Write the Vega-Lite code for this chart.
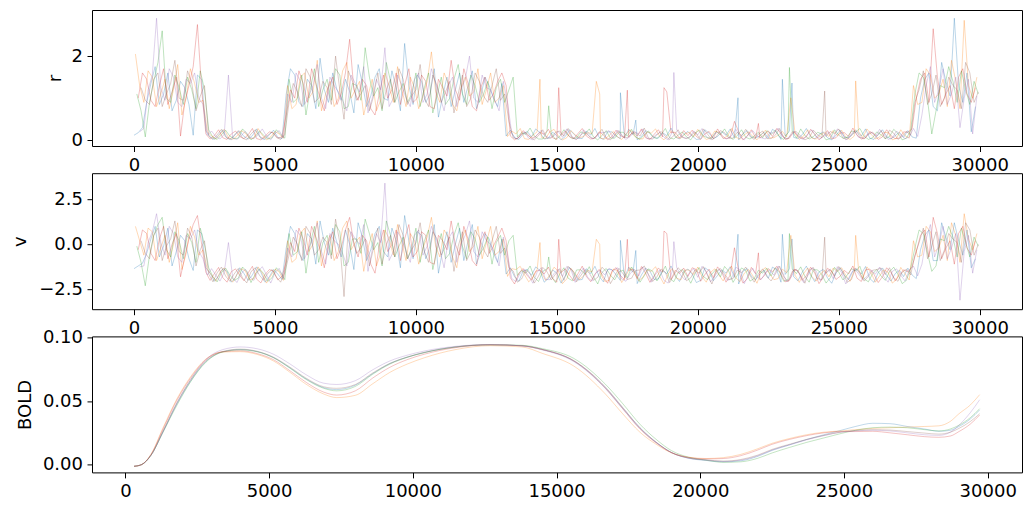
{
"$schema": "https://vega.github.io/schema/vega-lite/v6.json",
"padding": {"left": 10, "top": 9, "right": 5, "bottom": 5},
"background": "white",
"bounds": "flush",
"spacing": 27.2,
"datasets": {
"rv": [
{"t":0,"s":0,"r":0.12,"v":-1.35},{"t":300,"s":0,"r":0.3,"v":-1.05},{"t":600,"s":0,"r":1.35,"v":0.3},{"t":900,"s":0,"r":0.85,"v":-0.7},{"t":1200,"s":0,"r":1.6,"v":0.9},{"t":1500,"s":0,"r":0.95,"v":-0.4},{"t":1800,"s":0,"r":1.25,"v":0.2},{"t":2100,"s":0,"r":0.12,"v":-1.45},{"t":2400,"s":0,"r":1.45,"v":0.6},
{"t":2700,"s":0,"r":0.08,"v":-1.6},{"t":3000,"s":0,"r":0.12,"v":-1.75},{"t":3300,"s":0,"r":0.05,"v":-1.5},{"t":3600,"s":0,"r":0.15,"v":-1.85},{"t":3900,"s":0,"r":0.09,"v":-1.62},{"t":4200,"s":0,"r":0.11,"v":-1.7},{"t":4500,"s":0,"r":0.04,"v":-1.55},{"t":4800,"s":0,"r":0.13,"v":-1.8},{"t":5100,"s":0,"r":0.07,"v":-1.65},
{"t":5400,"s":0,"r":1.1,"v":-0.2},{"t":5700,"s":0,"r":1.55,"v":0.6},{"t":6000,"s":0,"r":0.8,"v":-0.9},{"t":6300,"s":0,"r":1.3,"v":0.3},{"t":6600,"s":0,"r":1.95,"v":1.3},{"t":6900,"s":0,"r":0.9,"v":-0.6},{"t":7200,"s":0,"r":1.2,"v":0.1},{"t":7500,"s":0,"r":1.45,"v":0.8},{"t":7800,"s":0,"r":0.65,"v":-1.4},{"t":8100,"s":0,"r":1.35,"v":0.4},{"t":8400,"s":0,"r":1.05,"v":-0.3},{"t":8700,"s":0,"r":1.7,"v":1.0},{"t":9000,"s":0,"r":0.95,"v":-0.7},{"t":9300,"s":0,"r":1.25,"v":0.2},{"t":9600,"s":0,"r":2.3,"v":1.6},{"t":9900,"s":0,"r":0.85,"v":-0.8},{"t":10200,"s":0,"r":1.4,"v":0.5},{"t":10500,"s":0,"r":1.1,"v":-0.1},{"t":10800,"s":0,"r":0.55,"v":-1.6},{"t":11100,"s":0,"r":1.5,"v":0.7},{"t":11400,"s":0,"r":1.2,"v":0.0},{"t":11700,"s":0,"r":0.9,"v":-0.9},{"t":12000,"s":0,"r":1.65,"v":1.1},{"t":12300,"s":0,"r":1.05,"v":-0.4},{"t":12600,"s":0,"r":1.3,"v":0.3},{"t":12900,"s":0,"r":0.8,"v":-1.0},
{"t":13200,"s":0,"r":0.1,"v":-1.65},{"t":13500,"s":0,"r":0.06,"v":-1.8},{"t":13800,"s":0,"r":0.14,"v":-1.5},{"t":14100,"s":0,"r":0.08,"v":-1.72},{"t":14400,"s":0,"r":0.18,"v":-1.45},{"t":14700,"s":0,"r":0.05,"v":-1.9},{"t":15000,"s":0,"r":0.11,"v":-1.6},{"t":15300,"s":0,"r":0.09,"v":-1.75},{"t":15600,"s":0,"r":0.15,"v":-1.55},{"t":15900,"s":0,"r":0.04,"v":-1.95},{"t":16200,"s":0,"r":0.12,"v":-1.62},{"t":16500,"s":0,"r":0.07,"v":-1.78},{"t":16800,"s":0,"r":0.2,"v":-1.4},{"t":17100,"s":0,"r":0.1,"v":-1.68},{"t":17400,"s":0,"r":0.06,"v":-1.85},{"t":17700,"s":0,"r":0.13,"v":-1.55},{"t":18000,"s":0,"r":0.09,"v":-1.7},{"t":18300,"s":0,"r":0.16,"v":-1.48},{"t":18600,"s":0,"r":0.05,"v":-1.92},{"t":18900,"s":0,"r":0.11,"v":-1.63},{"t":19200,"s":0,"r":0.08,"v":-1.76},{"t":19500,"s":0,"r":0.14,"v":-1.52},{"t":19800,"s":0,"r":0.1,"v":-1.66},{"t":20100,"s":0,"r":0.03,"v":-2.0},{"t":20400,"s":0,"r":0.17,"v":-1.46},{"t":20700,"s":0,"r":0.09,"v":-1.73},{"t":21000,"s":0,"r":0.12,"v":-1.6},{"t":21300,"s":0,"r":0.06,"v":-1.83},{"t":21600,"s":0,"r":0.15,"v":-1.5},{"t":21900,"s":0,"r":0.08,"v":-1.77},{"t":22200,"s":0,"r":0.11,"v":-1.64},{"t":22500,"s":0,"r":0.05,"v":-1.88},{"t":22800,"s":0,"r":0.19,"v":-1.42},{"t":23100,"s":0,"r":0.1,"v":-1.67},{"t":23400,"s":0,"r":0.07,"v":-1.8},{"t":23700,"s":0,"r":0.13,"v":-1.56},{"t":24000,"s":0,"r":0.09,"v":-1.71},{"t":24300,"s":0,"r":0.14,"v":-1.53},{"t":24600,"s":0,"r":0.06,"v":-1.86},{"t":24900,"s":0,"r":0.12,"v":-1.6},{"t":25200,"s":0,"r":0.08,"v":-1.74},{"t":25500,"s":0,"r":0.16,"v":-1.49},{"t":25800,"s":0,"r":0.1,"v":-1.65},{"t":26100,"s":0,"r":0.05,"v":-1.9},{"t":26400,"s":0,"r":0.13,"v":-1.57},{"t":26700,"s":0,"r":0.09,"v":-1.72},{"t":27000,"s":0,"r":0.11,"v":-1.63},{"t":27300,"s":0,"r":0.07,"v":-1.79},
{"t":27600,"s":0,"r":0.08,"v":-1.7},{"t":27900,"s":0,"r":1.0,"v":-0.3},{"t":28200,"s":0,"r":1.6,"v":0.8},{"t":28500,"s":0,"r":0.7,"v":-0.9},{"t":28800,"s":0,"r":1.4,"v":0.4},{"t":29100,"s":0,"r":2.9,"v":1.2},{"t":29400,"s":0,"r":0.9,"v":-0.6},{"t":29700,"s":0,"r":0.2,"v":-1.3},
{"t":17254,"s":0,"r":1.13,"v":0.22},{"t":17800,"s":0,"r":0.48,"v":-0.34},{"t":21425,"s":0,"r":1.01,"v":0.56},{"t":23000,"s":0,"r":1.45,"v":0.56},{"t":23340,"s":0,"r":1.36,"v":0.3},
{"t":150,"s":0,"r":0.18,"v":-1.2},{"t":450,"s":0,"r":0.9,"v":-0.5},{"t":750,"s":0,"r":1.75,"v":1.0},{"t":1050,"s":0,"r":1.1,"v":-0.1},{"t":1350,"s":0,"r":0.7,"v":-1.2},{"t":1650,"s":0,"r":1.4,"v":0.5},{"t":1950,"s":0,"r":0.85,"v":-0.8},{"t":2250,"s":0,"r":1.55,"v":0.8},{"t":2550,"s":0,"r":0.22,"v":-1.3},
{"t":2850,"s":0,"r":0.02,"v":-2.05},{"t":3150,"s":0,"r":0.25,"v":-1.35},{"t":3450,"s":0,"r":0.01,"v":-2.1},{"t":3750,"s":0,"r":0.22,"v":-1.3},{"t":4050,"s":0,"r":0.03,"v":-2.0},{"t":4350,"s":0,"r":0.27,"v":-1.25},{"t":4650,"s":0,"r":0.02,"v":-2.1},{"t":4950,"s":0,"r":0.24,"v":-1.4},{"t":5250,"s":0,"r":0.04,"v":-1.95},
{"t":5550,"s":0,"r":1.7,"v":1.0},{"t":5850,"s":0,"r":0.9,"v":-0.5},{"t":6150,"s":0,"r":1.45,"v":0.6},{"t":6450,"s":0,"r":0.75,"v":-1.1},{"t":6750,"s":0,"r":1.2,"v":0.1},{"t":7050,"s":0,"r":1.6,"v":0.9},{"t":7350,"s":0,"r":0.95,"v":-0.7},{"t":7650,"s":0,"r":1.15,"v":0.0},{"t":7950,"s":0,"r":1.8,"v":1.2},{"t":8250,"s":0,"r":0.8,"v":-0.9},{"t":8550,"s":0,"r":1.5,"v":0.6},{"t":8850,"s":0,"r":1.0,"v":-0.4},{"t":9150,"s":0,"r":1.65,"v":0.9},{"t":9450,"s":0,"r":0.7,"v":-1.3},{"t":9750,"s":0,"r":1.3,"v":0.2},{"t":10050,"s":0,"r":1.55,"v":0.7},{"t":10350,"s":0,"r":0.9,"v":-0.8},{"t":10650,"s":0,"r":1.7,"v":1.1},{"t":10950,"s":0,"r":1.05,"v":-0.3},{"t":11250,"s":0,"r":0.8,"v":-1.0},{"t":11550,"s":0,"r":1.6,"v":0.9},{"t":11850,"s":0,"r":1.3,"v":0.2},{"t":12150,"s":0,"r":0.75,"v":-1.1},{"t":12450,"s":0,"r":1.5,"v":0.6},{"t":12750,"s":0,"r":1.0,"v":-0.5},{"t":13050,"s":0,"r":1.35,"v":0.3},
{"t":13350,"s":0,"r":0.24,"v":-1.3},{"t":13650,"s":0,"r":0.02,"v":-2.05},{"t":13950,"s":0,"r":0.21,"v":-1.38},{"t":14250,"s":0,"r":0.27,"v":-1.25},{"t":14550,"s":0,"r":0.03,"v":-2.1},{"t":14850,"s":0,"r":0.19,"v":-1.42},{"t":15150,"s":0,"r":0.01,"v":-2.15},{"t":15450,"s":0,"r":0.25,"v":-1.28},{"t":15750,"s":0,"r":0.05,"v":-1.98},{"t":16050,"s":0,"r":0.22,"v":-1.35},{"t":16350,"s":0,"r":0.28,"v":-1.22},{"t":16650,"s":0,"r":0.02,"v":-2.08},{"t":16950,"s":0,"r":0.2,"v":-1.4},{"t":17250,"s":0,"r":0.04,"v":-2.0},{"t":17550,"s":0,"r":0.26,"v":-1.27},{"t":17850,"s":0,"r":0.01,"v":-2.18},{"t":18150,"s":0,"r":0.23,"v":-1.33},{"t":18450,"s":0,"r":0.06,"v":-1.95},{"t":18750,"s":0,"r":0.18,"v":-1.45},{"t":19050,"s":0,"r":0.29,"v":-1.2},{"t":19350,"s":0,"r":0.03,"v":-2.06},{"t":19650,"s":0,"r":0.21,"v":-1.37},{"t":19950,"s":0,"r":0.02,"v":-2.12},{"t":20250,"s":0,"r":0.25,"v":-1.3},{"t":20550,"s":0,"r":0.04,"v":-2.02},{"t":20850,"s":0,"r":0.2,"v":-1.41},{"t":21150,"s":0,"r":0.27,"v":-1.24},{"t":21450,"s":0,"r":0.01,"v":-2.2},{"t":21750,"s":0,"r":0.23,"v":-1.34},{"t":22050,"s":0,"r":0.05,"v":-1.97},{"t":22350,"s":0,"r":0.19,"v":-1.43},{"t":22650,"s":0,"r":0.26,"v":-1.26},{"t":22950,"s":0,"r":0.02,"v":-2.1},{"t":23250,"s":0,"r":0.22,"v":-1.36},{"t":23550,"s":0,"r":0.04,"v":-2.03},{"t":23850,"s":0,"r":0.28,"v":-1.21},{"t":24150,"s":0,"r":0.03,"v":-2.07},{"t":24450,"s":0,"r":0.2,"v":-1.39},{"t":24750,"s":0,"r":0.01,"v":-2.16},{"t":25050,"s":0,"r":0.24,"v":-1.29},{"t":25350,"s":0,"r":0.06,"v":-1.96},{"t":25650,"s":0,"r":0.21,"v":-1.38},{"t":25950,"s":0,"r":0.27,"v":-1.23},{"t":26250,"s":0,"r":0.02,"v":-2.11},{"t":26550,"s":0,"r":0.25,"v":-1.31},{"t":26850,"s":0,"r":0.03,"v":-2.04},{"t":27150,"s":0,"r":0.19,"v":-1.44},{"t":27450,"s":0,"r":0.23,"v":-1.32},
{"t":27750,"s":0,"r":0.05,"v":-1.9},{"t":28050,"s":0,"r":1.45,"v":0.5},{"t":28350,"s":0,"r":0.8,"v":-0.9},{"t":28650,"s":0,"r":1.85,"v":1.2},{"t":28950,"s":0,"r":1.05,"v":-0.3},{"t":29250,"s":0,"r":1.3,"v":0.2},{"t":29550,"s":0,"r":1.6,"v":0.8},{"t":29850,"s":0,"r":0.8,"v":-0.8},

{"t":50,"s":1,"r":2.05,"v":1.0},{"t":350,"s":1,"r":0.9,"v":-0.6},{"t":650,"s":1,"r":1.5,"v":0.7},{"t":950,"s":1,"r":1.1,"v":-0.2},{"t":1250,"s":1,"r":0.75,"v":-1.0},{"t":1550,"s":1,"r":1.8,"v":1.2},{"t":1850,"s":1,"r":1.0,"v":-0.5},{"t":2150,"s":1,"r":1.35,"v":0.4},{"t":2450,"s":1,"r":0.95,"v":-0.3},
{"t":2750,"s":1,"r":0.1,"v":-1.7},{"t":3050,"s":1,"r":0.14,"v":-1.55},{"t":3350,"s":1,"r":0.06,"v":-1.82},{"t":3650,"s":1,"r":0.1,"v":-1.68},{"t":3950,"s":1,"r":0.17,"v":-1.47},{"t":4250,"s":1,"r":0.05,"v":-1.9},{"t":4550,"s":1,"r":0.12,"v":-1.6},{"t":4850,"s":1,"r":0.08,"v":-1.75},{"t":5150,"s":1,"r":0.15,"v":-1.52},
{"t":5450,"s":1,"r":1.3,"v":0.2},{"t":5750,"s":1,"r":0.85,"v":-0.8},{"t":6050,"s":1,"r":1.6,"v":0.9},{"t":6350,"s":1,"r":1.15,"v":0.0},{"t":6650,"s":1,"r":0.7,"v":-1.2},{"t":6950,"s":1,"r":1.4,"v":0.5},{"t":7250,"s":1,"r":1.0,"v":-0.4},{"t":7550,"s":1,"r":1.85,"v":1.3},{"t":7850,"s":1,"r":1.2,"v":0.1},{"t":8150,"s":1,"r":0.6,"v":-1.5},{"t":8450,"s":1,"r":1.45,"v":0.6},{"t":8750,"s":1,"r":0.95,"v":-0.5},{"t":9050,"s":1,"r":1.3,"v":0.3},{"t":9350,"s":1,"r":1.75,"v":1.1},{"t":9650,"s":1,"r":0.8,"v":-0.9},{"t":9950,"s":1,"r":1.25,"v":0.2},{"t":10250,"s":1,"r":1.05,"v":-0.2},{"t":10550,"s":1,"r":2.1,"v":1.5},{"t":10850,"s":1,"r":0.9,"v":-0.7},{"t":11150,"s":1,"r":1.35,"v":0.4},{"t":11450,"s":1,"r":0.7,"v":-1.3},{"t":11750,"s":1,"r":1.5,"v":0.8},{"t":12050,"s":1,"r":1.15,"v":-0.1},{"t":12350,"s":1,"r":0.85,"v":-0.8},{"t":12650,"s":1,"r":1.6,"v":1.0},{"t":12950,"s":1,"r":1.0,"v":-0.4},
{"t":13250,"s":1,"r":0.09,"v":-1.78},{"t":13550,"s":1,"r":0.15,"v":-1.4},{"t":13850,"s":1,"r":0.04,"v":-1.68},{"t":14150,"s":1,"r":0.12,"v":-1.85},{"t":14450,"s":1,"r":0.07,"v":-1.55},{"t":14750,"s":1,"r":0.2,"v":-1.7},{"t":15050,"s":1,"r":0.1,"v":-1.48},{"t":15350,"s":1,"r":0.06,"v":-1.92},{"t":15650,"s":1,"r":0.13,"v":-1.63},{"t":15950,"s":1,"r":0.09,"v":-1.76},{"t":16250,"s":1,"r":0.16,"v":-1.52},{"t":16550,"s":1,"r":0.05,"v":-1.66},{"t":16850,"s":1,"r":0.11,"v":-2.0},{"t":17150,"s":1,"r":0.08,"v":-1.46},{"t":17450,"s":1,"r":0.14,"v":-1.73},{"t":17750,"s":1,"r":0.1,"v":-1.6},{"t":18050,"s":1,"r":0.03,"v":-1.83},{"t":18350,"s":1,"r":0.17,"v":-1.5},{"t":18650,"s":1,"r":0.09,"v":-1.77},{"t":18950,"s":1,"r":0.12,"v":-1.64},{"t":19250,"s":1,"r":0.06,"v":-1.88},{"t":19550,"s":1,"r":0.15,"v":-1.42},{"t":19850,"s":1,"r":0.08,"v":-1.67},{"t":20150,"s":1,"r":0.11,"v":-1.8},{"t":20450,"s":1,"r":0.05,"v":-1.56},{"t":20750,"s":1,"r":0.19,"v":-1.71},{"t":21050,"s":1,"r":0.1,"v":-1.53},{"t":21350,"s":1,"r":0.07,"v":-1.86},{"t":21650,"s":1,"r":0.13,"v":-1.6},{"t":21950,"s":1,"r":0.09,"v":-1.74},{"t":22250,"s":1,"r":0.14,"v":-1.49},{"t":22550,"s":1,"r":0.06,"v":-1.65},{"t":22850,"s":1,"r":0.12,"v":-1.9},{"t":23150,"s":1,"r":0.08,"v":-1.57},{"t":23450,"s":1,"r":0.16,"v":-1.72},{"t":23750,"s":1,"r":0.1,"v":-1.63},{"t":24050,"s":1,"r":0.05,"v":-1.79},{"t":24350,"s":1,"r":0.13,"v":-1.65},{"t":24650,"s":1,"r":0.09,"v":-1.8},{"t":24950,"s":1,"r":0.11,"v":-1.5},{"t":25250,"s":1,"r":0.07,"v":-1.72},{"t":25550,"s":1,"r":0.1,"v":-1.45},{"t":25850,"s":1,"r":0.06,"v":-1.9},{"t":26150,"s":1,"r":0.14,"v":-1.6},{"t":26450,"s":1,"r":0.08,"v":-1.75},{"t":26750,"s":1,"r":0.18,"v":-1.55},{"t":27050,"s":1,"r":0.05,"v":-1.95},{"t":27350,"s":1,"r":0.11,"v":-1.62},
{"t":27650,"s":1,"r":1.3,"v":0.2},{"t":27950,"s":1,"r":0.9,"v":-0.6},{"t":28250,"s":1,"r":1.55,"v":0.7},{"t":28550,"s":1,"r":1.1,"v":-0.2},{"t":28850,"s":1,"r":0.8,"v":-0.9},{"t":29150,"s":1,"r":1.4,"v":0.5},{"t":29450,"s":1,"r":2.85,"v":1.7},{"t":29750,"s":1,"r":1.0,"v":-0.3},
{"t":14400,"s":1,"r":1.45,"v":0.1},{"t":16520,"s":1,"r":1.1,"v":0.0},{"t":25600,"s":1,"r":1.41,"v":0.5},
{"t":200,"s":1,"r":1.3,"v":0.2},{"t":500,"s":1,"r":1.65,"v":0.9},{"t":800,"s":1,"r":0.8,"v":-0.9},{"t":1100,"s":1,"r":1.45,"v":0.5},{"t":1400,"s":1,"r":1.2,"v":0.0},{"t":1700,"s":1,"r":0.6,"v":-1.4},{"t":2000,"s":1,"r":1.7,"v":1.0},{"t":2300,"s":1,"r":0.9,"v":-0.6},{"t":2600,"s":1,"r":0.2,"v":-1.4},
{"t":2900,"s":1,"r":0.03,"v":-2.05},{"t":3200,"s":1,"r":0.26,"v":-1.3},{"t":3500,"s":1,"r":0.02,"v":-2.1},{"t":3800,"s":1,"r":0.23,"v":-1.35},{"t":4100,"s":1,"r":0.04,"v":-1.98},{"t":4400,"s":1,"r":0.28,"v":-1.25},{"t":4700,"s":1,"r":0.01,"v":-2.15},{"t":5000,"s":1,"r":0.21,"v":-1.38},{"t":5300,"s":1,"r":0.05,"v":-2.0},
{"t":5600,"s":1,"r":0.75,"v":-1.0},{"t":5900,"s":1,"r":1.5,"v":0.6},{"t":6200,"s":1,"r":1.0,"v":-0.4},{"t":6500,"s":1,"r":1.9,"v":1.3},{"t":6800,"s":1,"r":1.1,"v":-0.1},{"t":7100,"s":1,"r":0.8,"v":-0.9},{"t":7400,"s":1,"r":1.65,"v":0.9},{"t":7700,"s":1,"r":1.0,"v":-0.3},{"t":8000,"s":1,"r":1.4,"v":0.4},{"t":8300,"s":1,"r":1.05,"v":-0.2},{"t":8600,"s":1,"r":0.7,"v":-1.2},{"t":8900,"s":1,"r":1.6,"v":0.8},{"t":9200,"s":1,"r":0.9,"v":-0.6},{"t":9500,"s":1,"r":1.2,"v":0.1},{"t":9800,"s":1,"r":1.5,"v":0.6},{"t":10100,"s":1,"r":0.75,"v":-1.1},{"t":10400,"s":1,"r":1.4,"v":0.4},{"t":10700,"s":1,"r":1.15,"v":-0.1},{"t":11000,"s":1,"r":1.6,"v":0.8},{"t":11300,"s":1,"r":0.85,"v":-0.7},{"t":11600,"s":1,"r":1.25,"v":0.2},{"t":11900,"s":1,"r":1.05,"v":-0.4},{"t":12200,"s":1,"r":1.7,"v":1.0},{"t":12500,"s":1,"r":1.2,"v":0.1},{"t":12800,"s":1,"r":0.9,"v":-0.6},{"t":13100,"s":1,"r":1.3,"v":0.3},
{"t":13400,"s":1,"r":0.22,"v":-1.35},{"t":13700,"s":1,"r":0.28,"v":-1.22},{"t":14000,"s":1,"r":0.02,"v":-2.08},{"t":14300,"s":1,"r":0.2,"v":-1.4},{"t":14600,"s":1,"r":0.04,"v":-2.0},{"t":14900,"s":1,"r":0.26,"v":-1.27},{"t":15200,"s":1,"r":0.01,"v":-2.18},{"t":15500,"s":1,"r":0.23,"v":-1.33},{"t":15800,"s":1,"r":0.06,"v":-1.95},{"t":16100,"s":1,"r":0.18,"v":-1.45},{"t":16400,"s":1,"r":1.4,"v":0.28},{"t":16700,"s":1,"r":0.03,"v":-2.06},{"t":17000,"s":1,"r":0.21,"v":-1.37},{"t":17300,"s":1,"r":0.02,"v":-2.12},{"t":17600,"s":1,"r":0.25,"v":-1.3},{"t":17900,"s":1,"r":0.04,"v":-2.02},{"t":18200,"s":1,"r":0.2,"v":-1.41},{"t":18500,"s":1,"r":0.27,"v":-1.24},{"t":18800,"s":1,"r":0.01,"v":-2.2},{"t":19100,"s":1,"r":0.23,"v":-1.34},{"t":19400,"s":1,"r":0.05,"v":-1.97},{"t":19700,"s":1,"r":0.19,"v":-1.43},{"t":20000,"s":1,"r":0.26,"v":-1.26},{"t":20300,"s":1,"r":0.02,"v":-2.1},{"t":20600,"s":1,"r":0.22,"v":-1.36},{"t":20900,"s":1,"r":0.04,"v":-2.03},{"t":21200,"s":1,"r":0.28,"v":-1.21},{"t":21500,"s":1,"r":0.03,"v":-2.07},{"t":21800,"s":1,"r":0.2,"v":-1.39},{"t":22100,"s":1,"r":0.01,"v":-2.16},{"t":22400,"s":1,"r":0.24,"v":-1.29},{"t":22700,"s":1,"r":0.06,"v":-1.96},{"t":23000,"s":1,"r":0.21,"v":-1.38},{"t":23300,"s":1,"r":1.01,"v":0.5},{"t":23600,"s":1,"r":0.02,"v":-2.11},{"t":23900,"s":1,"r":0.25,"v":-1.31},{"t":24200,"s":1,"r":0.03,"v":-2.04},{"t":24500,"s":1,"r":0.19,"v":-1.44},{"t":24800,"s":1,"r":0.23,"v":-1.32},{"t":25100,"s":1,"r":0.24,"v":-1.3},{"t":25400,"s":1,"r":0.02,"v":-2.05},{"t":25700,"s":1,"r":0.21,"v":-1.38},{"t":26000,"s":1,"r":0.27,"v":-1.25},{"t":26300,"s":1,"r":0.03,"v":-2.1},{"t":26600,"s":1,"r":0.19,"v":-1.42},{"t":26900,"s":1,"r":0.01,"v":-2.15},{"t":27200,"s":1,"r":0.25,"v":-1.28},{"t":27500,"s":1,"r":0.05,"v":-1.98},
{"t":27800,"s":1,"r":0.85,"v":-0.7},{"t":28100,"s":1,"r":1.7,"v":1.0},{"t":28400,"s":1,"r":1.0,"v":-0.4},{"t":28700,"s":1,"r":1.45,"v":0.5},{"t":29000,"s":1,"r":1.9,"v":1.2},{"t":29300,"s":1,"r":0.75,"v":-1.0},{"t":29600,"s":1,"r":1.3,"v":0.3},{"t":29900,"s":1,"r":1.5,"v":0.6},

{"t":100,"s":2,"r":1.1,"v":-0.1},{"t":400,"s":2,"r":0.08,"v":-2.3},{"t":700,"s":2,"r":1.4,"v":0.5},{"t":1000,"s":2,"r":2.6,"v":1.5},{"t":1300,"s":2,"r":0.9,"v":-0.7},{"t":1600,"s":2,"r":1.25,"v":0.2},{"t":1900,"s":2,"r":1.5,"v":0.6},{"t":2200,"s":2,"r":0.75,"v":-1.0},{"t":2500,"s":2,"r":1.2,"v":0.0},
{"t":2800,"s":2,"r":0.07,"v":-1.8},{"t":3100,"s":2,"r":0.13,"v":-1.58},{"t":3400,"s":2,"r":0.1,"v":-1.7},{"t":3700,"s":2,"r":0.05,"v":-1.88},{"t":4000,"s":2,"r":0.16,"v":-1.5},{"t":4300,"s":2,"r":0.09,"v":-1.66},{"t":4600,"s":2,"r":0.12,"v":-1.62},{"t":4900,"s":2,"r":0.06,"v":-1.85},{"t":5200,"s":2,"r":0.14,"v":-1.55},
{"t":5500,"s":2,"r":1.45,"v":0.6},{"t":5800,"s":2,"r":1.0,"v":-0.4},{"t":6100,"s":2,"r":0.6,"v":-1.6},{"t":6400,"s":2,"r":1.7,"v":1.0},{"t":6700,"s":2,"r":1.2,"v":0.1},{"t":7000,"s":2,"r":0.95,"v":-0.6},{"t":7300,"s":2,"r":1.55,"v":0.7},{"t":7600,"s":2,"r":0.8,"v":-1.0},{"t":7900,"s":2,"r":1.3,"v":0.3},{"t":8200,"s":2,"r":2.2,"v":1.4},{"t":8500,"s":2,"r":1.05,"v":-0.3},{"t":8800,"s":2,"r":0.7,"v":-1.2},{"t":9100,"s":2,"r":1.4,"v":0.5},{"t":9400,"s":2,"r":1.15,"v":-0.1},{"t":9700,"s":2,"r":0.9,"v":-0.8},{"t":10000,"s":2,"r":1.6,"v":0.9},{"t":10300,"s":2,"r":1.25,"v":0.2},{"t":10600,"s":2,"r":0.65,"v":-1.4},{"t":10900,"s":2,"r":1.5,"v":0.6},{"t":11200,"s":2,"r":1.0,"v":-0.5},{"t":11500,"s":2,"r":1.8,"v":1.2},{"t":11800,"s":2,"r":0.85,"v":-0.8},{"t":12100,"s":2,"r":1.3,"v":0.3},{"t":12400,"s":2,"r":1.1,"v":-0.2},{"t":12700,"s":2,"r":0.75,"v":-1.1},{"t":13000,"s":2,"r":1.45,"v":0.5},{"t":13300,"s":2,"r":1.2,"v":0.2},
{"t":13600,"s":2,"r":0.08,"v":-1.73},{"t":13900,"s":2,"r":0.14,"v":-1.6},{"t":14200,"s":2,"r":0.1,"v":-1.83},{"t":14500,"s":2,"r":0.03,"v":-1.5},{"t":14800,"s":2,"r":0.17,"v":-1.77},{"t":15100,"s":2,"r":0.09,"v":-1.64},{"t":15400,"s":2,"r":0.12,"v":-1.88},{"t":15700,"s":2,"r":0.06,"v":-1.42},{"t":16000,"s":2,"r":0.15,"v":-1.67},{"t":16300,"s":2,"r":0.08,"v":-1.8},{"t":16600,"s":2,"r":0.11,"v":-1.56},{"t":16900,"s":2,"r":0.05,"v":-1.71},{"t":17200,"s":2,"r":0.19,"v":-1.53},{"t":17500,"s":2,"r":0.1,"v":-1.86},{"t":17800,"s":2,"r":0.07,"v":-1.6},{"t":18100,"s":2,"r":0.13,"v":-1.74},{"t":18400,"s":2,"r":0.09,"v":-1.49},{"t":18700,"s":2,"r":0.14,"v":-1.65},{"t":19000,"s":2,"r":0.06,"v":-1.9},{"t":19300,"s":2,"r":0.12,"v":-1.57},{"t":19600,"s":2,"r":0.08,"v":-1.72},{"t":19900,"s":2,"r":0.16,"v":-1.63},{"t":20200,"s":2,"r":0.1,"v":-1.79},{"t":20500,"s":2,"r":0.05,"v":-1.65},{"t":20800,"s":2,"r":0.13,"v":-1.8},{"t":21100,"s":2,"r":0.09,"v":-1.5},{"t":21400,"s":2,"r":0.11,"v":-1.72},{"t":21700,"s":2,"r":0.07,"v":-1.45},{"t":22000,"s":2,"r":0.1,"v":-1.9},{"t":22300,"s":2,"r":0.06,"v":-1.6},{"t":22600,"s":2,"r":0.14,"v":-1.75},{"t":22900,"s":2,"r":0.08,"v":-1.55},{"t":23200,"s":2,"r":0.18,"v":-1.95},{"t":23500,"s":2,"r":0.05,"v":-1.62},{"t":23800,"s":2,"r":0.11,"v":-1.78},{"t":24100,"s":2,"r":0.09,"v":-1.4},{"t":24400,"s":2,"r":0.15,"v":-1.68},{"t":24700,"s":2,"r":0.04,"v":-1.85},{"t":25000,"s":2,"r":0.12,"v":-1.55},{"t":25300,"s":2,"r":0.07,"v":-1.7},{"t":25600,"s":2,"r":0.2,"v":-1.48},{"t":25900,"s":2,"r":0.1,"v":-1.92},{"t":26200,"s":2,"r":0.06,"v":-1.63},{"t":26500,"s":2,"r":0.13,"v":-1.76},{"t":26800,"s":2,"r":0.09,"v":-1.52},{"t":27100,"s":2,"r":0.16,"v":-1.66},{"t":27400,"s":2,"r":0.05,"v":-2.0},
{"t":27700,"s":2,"r":1.1,"v":-0.2},{"t":28000,"s":2,"r":1.5,"v":0.6},{"t":28300,"s":2,"r":0.15,"v":-1.5},{"t":28600,"s":2,"r":1.3,"v":0.3},{"t":28900,"s":2,"r":1.75,"v":1.0},{"t":29200,"s":2,"r":0.9,"v":-0.7},{"t":29500,"s":2,"r":1.2,"v":0.1},{"t":29800,"s":2,"r":1.4,"v":0.4},
{"t":14711,"s":2,"r":0.82,"v":-0.7},{"t":23250,"s":2,"r":1.73,"v":0.6},
{"t":250,"s":2,"r":0.7,"v":-1.0},{"t":550,"s":2,"r":0.9,"v":-0.6},{"t":850,"s":2,"r":1.85,"v":1.1},{"t":1150,"s":2,"r":1.0,"v":-0.3},{"t":1450,"s":2,"r":1.55,"v":0.7},{"t":1750,"s":2,"r":0.85,"v":-0.8},{"t":2050,"s":2,"r":1.2,"v":0.1},{"t":2350,"s":2,"r":1.65,"v":0.9},{"t":2650,"s":2,"r":0.25,"v":-1.3},
{"t":2950,"s":2,"r":0.02,"v":-2.08},{"t":3250,"s":2,"r":0.24,"v":-1.32},{"t":3550,"s":2,"r":0.04,"v":-2.0},{"t":3850,"s":2,"r":0.27,"v":-1.26},{"t":4150,"s":2,"r":0.01,"v":-2.12},{"t":4450,"s":2,"r":0.22,"v":-1.36},{"t":4750,"s":2,"r":0.03,"v":-2.05},{"t":5050,"s":2,"r":0.25,"v":-1.3},{"t":5350,"s":2,"r":0.05,"v":-1.96},
{"t":5650,"s":2,"r":0.9,"v":-0.6},{"t":5950,"s":2,"r":1.55,"v":0.7},{"t":6250,"s":2,"r":1.2,"v":0.0},{"t":6550,"s":2,"r":0.8,"v":-1.0},{"t":6850,"s":2,"r":1.45,"v":0.5},{"t":7150,"s":2,"r":1.7,"v":1.1},{"t":7450,"s":2,"r":0.75,"v":-1.2},{"t":7750,"s":2,"r":1.35,"v":0.3},{"t":8050,"s":2,"r":0.95,"v":-0.5},{"t":8350,"s":2,"r":1.5,"v":0.6},{"t":8650,"s":2,"r":1.25,"v":0.1},{"t":8950,"s":2,"r":1.85,"v":1.3},{"t":9250,"s":2,"r":0.9,"v":-0.7},{"t":9550,"s":2,"r":1.35,"v":0.4},{"t":9850,"s":2,"r":1.1,"v":-0.2},{"t":10150,"s":2,"r":0.8,"v":-1.0},{"t":10450,"s":2,"r":1.6,"v":0.8},{"t":10750,"s":2,"r":1.05,"v":-0.3},{"t":11050,"s":2,"r":0.85,"v":-0.8},{"t":11350,"s":2,"r":1.45,"v":0.5},{"t":11650,"s":2,"r":1.1,"v":-0.1},{"t":11950,"s":2,"r":1.55,"v":0.7},{"t":12250,"s":2,"r":0.9,"v":-0.6},{"t":12550,"s":2,"r":1.4,"v":0.4},{"t":12850,"s":2,"r":1.25,"v":0.1},{"t":13150,"s":2,"r":0.9,"v":-0.6},{"t":13450,"s":2,"r":1.5,"v":0.5},
{"t":13750,"s":2,"r":0.18,"v":-1.45},{"t":14050,"s":2,"r":0.29,"v":-1.2},{"t":14350,"s":2,"r":0.03,"v":-2.06},{"t":14650,"s":2,"r":0.21,"v":-1.37},{"t":14950,"s":2,"r":0.02,"v":-2.12},{"t":15250,"s":2,"r":0.25,"v":-1.3},{"t":15550,"s":2,"r":0.04,"v":-2.02},{"t":15850,"s":2,"r":0.2,"v":-1.41},{"t":16150,"s":2,"r":0.27,"v":-1.24},{"t":16450,"s":2,"r":0.01,"v":-2.2},{"t":16750,"s":2,"r":0.23,"v":-1.34},{"t":17050,"s":2,"r":0.05,"v":-1.97},{"t":17350,"s":2,"r":0.19,"v":-1.43},{"t":17650,"s":2,"r":0.26,"v":-1.26},{"t":17950,"s":2,"r":0.02,"v":-2.1},{"t":18250,"s":2,"r":0.22,"v":-1.36},{"t":18550,"s":2,"r":0.04,"v":-2.03},{"t":18850,"s":2,"r":0.28,"v":-1.21},{"t":19150,"s":2,"r":0.03,"v":-2.07},{"t":19450,"s":2,"r":0.2,"v":-1.39},{"t":19750,"s":2,"r":0.01,"v":-2.16},{"t":20050,"s":2,"r":0.24,"v":-1.29},{"t":20350,"s":2,"r":0.06,"v":-1.96},{"t":20650,"s":2,"r":0.21,"v":-1.38},{"t":20950,"s":2,"r":0.27,"v":-1.23},{"t":21250,"s":2,"r":0.02,"v":-2.11},{"t":21550,"s":2,"r":0.25,"v":-1.31},{"t":21850,"s":2,"r":0.03,"v":-2.04},{"t":22150,"s":2,"r":0.19,"v":-1.44},{"t":22450,"s":2,"r":0.23,"v":-1.32},{"t":22750,"s":2,"r":0.24,"v":-1.3},{"t":23050,"s":2,"r":0.02,"v":-2.05},{"t":23350,"s":2,"r":0.21,"v":-1.38},{"t":23650,"s":2,"r":0.27,"v":-1.25},{"t":23950,"s":2,"r":0.03,"v":-2.1},{"t":24250,"s":2,"r":0.19,"v":-1.42},{"t":24550,"s":2,"r":0.01,"v":-2.15},{"t":24850,"s":2,"r":0.25,"v":-1.28},{"t":25150,"s":2,"r":0.05,"v":-1.98},{"t":25450,"s":2,"r":0.22,"v":-1.35},{"t":25750,"s":2,"r":0.28,"v":-1.22},{"t":26050,"s":2,"r":0.02,"v":-2.08},{"t":26350,"s":2,"r":0.2,"v":-1.4},{"t":26650,"s":2,"r":0.04,"v":-2.0},{"t":26950,"s":2,"r":0.26,"v":-1.27},{"t":27250,"s":2,"r":0.01,"v":-2.18},{"t":27550,"s":2,"r":0.23,"v":-1.33},
{"t":27850,"s":2,"r":1.6,"v":0.8},{"t":28150,"s":2,"r":0.95,"v":-0.5},{"t":28450,"s":2,"r":0.7,"v":-1.2},{"t":28750,"s":2,"r":1.25,"v":0.2},{"t":29050,"s":2,"r":1.4,"v":0.4},{"t":29350,"s":2,"r":1.65,"v":0.9},{"t":29650,"s":2,"r":0.85,"v":-0.7},{"t":29950,"s":2,"r":1.1,"v":-0.1},

{"t":150,"s":3,"r":1.0,"v":-0.3},{"t":450,"s":3,"r":1.45,"v":0.6},{"t":750,"s":3,"r":0.8,"v":-0.9},{"t":1050,"s":3,"r":1.7,"v":1.0},{"t":1350,"s":3,"r":1.15,"v":0.0},{"t":1650,"s":3,"r":0.1,"v":-1.8},{"t":1950,"s":3,"r":1.3,"v":0.3},{"t":2250,"s":3,"r":2.75,"v":1.6},{"t":2550,"s":3,"r":0.15,"v":-1.55},
{"t":2850,"s":3,"r":0.11,"v":-1.63},{"t":3150,"s":3,"r":0.06,"v":-1.85},{"t":3450,"s":3,"r":0.15,"v":-1.52},{"t":3750,"s":3,"r":0.09,"v":-1.72},{"t":4050,"s":3,"r":0.13,"v":-1.58},{"t":4350,"s":3,"r":0.04,"v":-1.93},{"t":4650,"s":3,"r":0.1,"v":-1.67},{"t":4950,"s":3,"r":0.17,"v":-1.49},{"t":5250,"s":3,"r":0.08,"v":-1.78},
{"t":5550,"s":3,"r":1.2,"v":0.1},{"t":5850,"s":3,"r":1.65,"v":0.9},{"t":6150,"s":3,"r":0.9,"v":-0.6},{"t":6450,"s":3,"r":1.35,"v":0.4},{"t":6750,"s":3,"r":0.7,"v":-1.3},{"t":7050,"s":3,"r":1.5,"v":0.7},{"t":7350,"s":3,"r":1.1,"v":-0.2},{"t":7650,"s":3,"r":2.4,"v":1.5},{"t":7950,"s":3,"r":0.95,"v":-0.7},{"t":8250,"s":3,"r":1.3,"v":0.2},{"t":8550,"s":3,"r":0.6,"v":-1.6},{"t":8850,"s":3,"r":1.55,"v":0.8},{"t":9150,"s":3,"r":1.2,"v":0.0},{"t":9450,"s":3,"r":0.85,"v":-0.9},{"t":9750,"s":3,"r":1.7,"v":1.1},{"t":10050,"s":3,"r":1.0,"v":-0.4},{"t":10350,"s":3,"r":1.4,"v":0.5},{"t":10650,"s":3,"r":0.75,"v":-1.1},{"t":10950,"s":3,"r":1.25,"v":0.2},{"t":11250,"s":3,"r":1.9,"v":1.3},{"t":11550,"s":3,"r":0.95,"v":-0.6},{"t":11850,"s":3,"r":1.35,"v":0.3},{"t":12150,"s":3,"r":0.7,"v":-1.2},{"t":12450,"s":3,"r":1.5,"v":0.7},{"t":12750,"s":3,"r":1.1,"v":-0.1},{"t":13050,"s":3,"r":1.6,"v":0.9},
{"t":13350,"s":3,"r":0.1,"v":-1.86},{"t":13650,"s":3,"r":0.07,"v":-1.6},{"t":13950,"s":3,"r":0.13,"v":-1.74},{"t":14250,"s":3,"r":0.09,"v":-1.49},{"t":14550,"s":3,"r":0.14,"v":-1.65},{"t":14850,"s":3,"r":0.06,"v":-1.9},{"t":15150,"s":3,"r":0.12,"v":-1.57},{"t":15450,"s":3,"r":0.08,"v":-1.72},{"t":15750,"s":3,"r":0.16,"v":-1.63},{"t":16050,"s":3,"r":0.1,"v":-1.79},{"t":16350,"s":3,"r":0.05,"v":-1.65},{"t":16650,"s":3,"r":0.13,"v":-1.8},{"t":16950,"s":3,"r":0.09,"v":-1.5},{"t":17250,"s":3,"r":0.11,"v":-1.72},{"t":17550,"s":3,"r":0.07,"v":-1.45},{"t":17850,"s":3,"r":0.1,"v":-1.9},{"t":18150,"s":3,"r":0.06,"v":-1.6},{"t":18450,"s":3,"r":0.14,"v":-1.75},{"t":18750,"s":3,"r":0.08,"v":-1.55},{"t":19050,"s":3,"r":0.18,"v":-1.95},{"t":19350,"s":3,"r":0.05,"v":-1.62},{"t":19650,"s":3,"r":0.11,"v":-1.78},{"t":19950,"s":3,"r":0.09,"v":-1.4},{"t":20250,"s":3,"r":0.15,"v":-1.68},{"t":20550,"s":3,"r":0.04,"v":-1.85},{"t":20850,"s":3,"r":0.12,"v":-1.55},{"t":21150,"s":3,"r":0.07,"v":-1.7},{"t":21450,"s":3,"r":0.2,"v":-1.48},{"t":21750,"s":3,"r":0.1,"v":-1.92},{"t":22050,"s":3,"r":0.06,"v":-1.63},{"t":22350,"s":3,"r":0.13,"v":-1.76},{"t":22650,"s":3,"r":0.09,"v":-1.52},{"t":22950,"s":3,"r":0.16,"v":-1.66},{"t":23250,"s":3,"r":0.05,"v":-2.0},{"t":23550,"s":3,"r":0.11,"v":-1.46},{"t":23850,"s":3,"r":0.08,"v":-1.73},{"t":24150,"s":3,"r":0.14,"v":-1.6},{"t":24450,"s":3,"r":0.1,"v":-1.83},{"t":24750,"s":3,"r":0.03,"v":-1.5},{"t":25050,"s":3,"r":0.17,"v":-1.77},{"t":25350,"s":3,"r":0.09,"v":-1.64},{"t":25650,"s":3,"r":0.12,"v":-1.88},{"t":25950,"s":3,"r":0.06,"v":-1.42},{"t":26250,"s":3,"r":0.15,"v":-1.67},{"t":26550,"s":3,"r":0.08,"v":-1.8},{"t":26850,"s":3,"r":0.11,"v":-1.56},{"t":27150,"s":3,"r":0.05,"v":-1.71},{"t":27450,"s":3,"r":0.19,"v":-1.53},
{"t":27750,"s":3,"r":1.0,"v":-0.4},{"t":28050,"s":3,"r":1.6,"v":0.8},{"t":28350,"s":3,"r":2.65,"v":1.5},{"t":28650,"s":3,"r":0.85,"v":-0.8},{"t":28950,"s":3,"r":1.3,"v":0.2},{"t":29250,"s":3,"r":1.5,"v":0.6},{"t":29550,"s":3,"r":1.1,"v":-0.2},{"t":29850,"s":3,"r":1.25,"v":0.2},
{"t":15066,"s":3,"r":1.25,"v":0.28},{"t":17500,"s":3,"r":1.19,"v":0.28},{"t":18800,"s":3,"r":1.25,"v":0.74},{"t":22150,"s":3,"r":0.4,"v":-0.47},
{"t":300,"s":3,"r":1.6,"v":0.8},{"t":600,"s":3,"r":0.95,"v":-0.5},{"t":900,"s":3,"r":1.3,"v":0.3},{"t":1200,"s":3,"r":0.85,"v":-0.8},{"t":1500,"s":3,"r":1.5,"v":0.6},{"t":1800,"s":3,"r":0.9,"v":-0.7},{"t":2100,"s":3,"r":1.75,"v":1.1},{"t":2400,"s":3,"r":1.2,"v":0.0},{"t":2700,"s":3,"r":0.03,"v":-2.0},
{"t":3000,"s":3,"r":0.25,"v":-1.28},{"t":3300,"s":3,"r":0.02,"v":-2.1},{"t":3600,"s":3,"r":0.22,"v":-1.36},{"t":3900,"s":3,"r":0.04,"v":-2.02},{"t":4200,"s":3,"r":0.28,"v":-1.22},{"t":4500,"s":3,"r":0.01,"v":-2.14},{"t":4800,"s":3,"r":0.2,"v":-1.4},{"t":5100,"s":3,"r":0.05,"v":-1.97},{"t":5400,"s":3,"r":0.6,"v":-1.0},
{"t":5700,"s":3,"r":1.0,"v":-0.4},{"t":6000,"s":3,"r":1.35,"v":0.3},{"t":6300,"s":3,"r":1.7,"v":1.0},{"t":6600,"s":3,"r":1.0,"v":-0.3},{"t":6900,"s":3,"r":1.25,"v":0.1},{"t":7200,"s":3,"r":0.85,"v":-0.8},{"t":7500,"s":3,"r":1.6,"v":0.8},{"t":7800,"s":3,"r":1.2,"v":0.0},{"t":8100,"s":3,"r":1.45,"v":0.5},{"t":8400,"s":3,"r":0.75,"v":-1.1},{"t":8700,"s":3,"r":1.1,"v":-0.1},{"t":9000,"s":3,"r":1.0,"v":-0.4},{"t":9300,"s":3,"r":1.6,"v":0.8},{"t":9600,"s":3,"r":1.3,"v":0.3},{"t":9900,"s":3,"r":0.9,"v":-0.7},{"t":10200,"s":3,"r":1.55,"v":0.7},{"t":10500,"s":3,"r":0.8,"v":-1.0},{"t":10800,"s":3,"r":1.45,"v":0.5},{"t":11100,"s":3,"r":1.05,"v":-0.3},{"t":11400,"s":3,"r":1.2,"v":0.0},{"t":11700,"s":3,"r":1.7,"v":1.0},{"t":12000,"s":3,"r":0.8,"v":-0.9},{"t":12300,"s":3,"r":1.25,"v":0.2},{"t":12600,"s":3,"r":0.95,"v":-0.5},{"t":12900,"s":3,"r":1.4,"v":0.4},{"t":13200,"s":3,"r":1.3,"v":0.2},
{"t":13500,"s":3,"r":0.01,"v":-2.2},{"t":13800,"s":3,"r":0.23,"v":-1.34},{"t":14100,"s":3,"r":0.05,"v":-1.97},{"t":14400,"s":3,"r":0.19,"v":-1.43},{"t":14700,"s":3,"r":0.26,"v":-1.26},{"t":15000,"s":3,"r":0.02,"v":-2.1},{"t":15300,"s":3,"r":0.22,"v":-1.36},{"t":15600,"s":3,"r":0.04,"v":-2.03},{"t":15900,"s":3,"r":0.28,"v":-1.21},{"t":16200,"s":3,"r":0.03,"v":-2.07},{"t":16500,"s":3,"r":0.2,"v":-1.39},{"t":16800,"s":3,"r":0.01,"v":-2.16},{"t":17100,"s":3,"r":0.24,"v":-1.29},{"t":17400,"s":3,"r":0.06,"v":-1.96},{"t":17700,"s":3,"r":0.21,"v":-1.38},{"t":18000,"s":3,"r":0.27,"v":-1.23},{"t":18300,"s":3,"r":0.02,"v":-2.11},{"t":18600,"s":3,"r":0.25,"v":-1.31},{"t":18900,"s":3,"r":1.15,"v":0.6},{"t":19200,"s":3,"r":0.19,"v":-1.44},{"t":19500,"s":3,"r":0.23,"v":-1.32},{"t":19800,"s":3,"r":0.24,"v":-1.3},{"t":20100,"s":3,"r":0.02,"v":-2.05},{"t":20400,"s":3,"r":0.21,"v":-1.38},{"t":20700,"s":3,"r":0.27,"v":-1.25},{"t":21000,"s":3,"r":0.03,"v":-2.1},{"t":21300,"s":3,"r":0.45,"v":-0.19},{"t":21600,"s":3,"r":0.01,"v":-2.15},{"t":21900,"s":3,"r":0.25,"v":-1.28},{"t":22200,"s":3,"r":0.05,"v":-1.98},{"t":22500,"s":3,"r":0.22,"v":-1.35},{"t":22800,"s":3,"r":0.28,"v":-1.22},{"t":23100,"s":3,"r":0.02,"v":-2.08},{"t":23400,"s":3,"r":0.2,"v":-1.4},{"t":23700,"s":3,"r":0.04,"v":-2.0},{"t":24000,"s":3,"r":0.26,"v":-1.27},{"t":24300,"s":3,"r":0.01,"v":-2.18},{"t":24600,"s":3,"r":0.23,"v":-1.33},{"t":24900,"s":3,"r":0.06,"v":-1.95},{"t":25200,"s":3,"r":0.18,"v":-1.45},{"t":25500,"s":3,"r":0.29,"v":-1.2},{"t":25800,"s":3,"r":0.03,"v":-2.06},{"t":26100,"s":3,"r":0.21,"v":-1.37},{"t":26400,"s":3,"r":0.02,"v":-2.12},{"t":26700,"s":3,"r":0.25,"v":-1.3},{"t":27000,"s":3,"r":0.04,"v":-2.02},{"t":27300,"s":3,"r":0.2,"v":-1.41},{"t":27600,"s":3,"r":0.27,"v":-1.24},
{"t":27900,"s":3,"r":1.45,"v":0.5},{"t":28200,"s":3,"r":0.9,"v":-0.7},{"t":28500,"s":3,"r":1.5,"v":0.6},{"t":28800,"s":3,"r":1.1,"v":-0.2},{"t":29100,"s":3,"r":0.75,"v":-1.1},{"t":29400,"s":3,"r":1.7,"v":1.0},{"t":29700,"s":3,"r":0.9,"v":-0.6},

{"t":200,"s":4,"r":0.2,"v":-1.25},{"t":500,"s":4,"r":1.2,"v":0.1},{"t":800,"s":4,"r":2.9,"v":1.7},{"t":1100,"s":4,"r":0.95,"v":-0.6},{"t":1400,"s":4,"r":1.5,"v":0.6},{"t":1700,"s":4,"r":0.8,"v":-1.0},{"t":2000,"s":4,"r":1.35,"v":0.3},{"t":2300,"s":4,"r":1.0,"v":-0.4},{"t":2600,"s":4,"r":0.12,"v":-1.7},
{"t":2900,"s":4,"r":0.09,"v":-1.7},{"t":3200,"s":4,"r":0.14,"v":-1.55},{"t":3500,"s":4,"r":0.05,"v":-1.83},{"t":3800,"s":4,"r":0.11,"v":-1.64},{"t":4100,"s":4,"r":0.07,"v":-1.77},{"t":4400,"s":4,"r":0.13,"v":-1.5},{"t":4700,"s":4,"r":0.1,"v":-1.69},{"t":5000,"s":4,"r":0.16,"v":-1.58},{"t":5300,"s":4,"r":0.06,"v":-1.9},
{"t":5600,"s":4,"r":0.9,"v":-0.7},{"t":5900,"s":4,"r":1.4,"v":0.5},{"t":6200,"s":4,"r":1.05,"v":-0.2},{"t":6500,"s":4,"r":1.8,"v":1.2},{"t":6800,"s":4,"r":0.75,"v":-1.1},{"t":7100,"s":4,"r":1.3,"v":0.2},{"t":7400,"s":4,"r":0.95,"v":-0.5},{"t":7700,"s":4,"r":1.55,"v":0.7},{"t":8000,"s":4,"r":1.15,"v":0.0},{"t":8300,"s":4,"r":0.65,"v":-1.5},{"t":8600,"s":4,"r":1.45,"v":0.6},{"t":8900,"s":4,"r":2.2,"v":3.4},{"t":9200,"s":4,"r":1.0,"v":-0.4},{"t":9500,"s":4,"r":1.3,"v":0.3},{"t":9800,"s":4,"r":0.8,"v":-1.0},{"t":10100,"s":4,"r":1.6,"v":0.8},{"t":10400,"s":4,"r":1.1,"v":-0.1},{"t":10700,"s":4,"r":1.35,"v":0.4},{"t":11000,"s":4,"r":0.7,"v":-1.3},{"t":11300,"s":4,"r":1.5,"v":0.7},{"t":11600,"s":4,"r":1.2,"v":0.0},{"t":11900,"s":4,"r":2.0,"v":1.3},{"t":12200,"s":4,"r":0.9,"v":-0.7},{"t":12500,"s":4,"r":1.25,"v":0.2},{"t":12800,"s":4,"r":0.95,"v":-0.5},{"t":13100,"s":4,"r":1.4,"v":0.4},
{"t":13400,"s":4,"r":0.16,"v":-1.9},{"t":13700,"s":4,"r":0.1,"v":-1.6},{"t":14000,"s":4,"r":0.05,"v":-1.75},{"t":14300,"s":4,"r":0.13,"v":-1.55},{"t":14600,"s":4,"r":0.09,"v":-1.95},{"t":14900,"s":4,"r":0.11,"v":-1.62},{"t":15200,"s":4,"r":0.07,"v":-1.78},{"t":15500,"s":4,"r":0.1,"v":-1.4},{"t":15800,"s":4,"r":0.06,"v":-1.68},{"t":16100,"s":4,"r":0.14,"v":-1.85},{"t":16400,"s":4,"r":0.08,"v":-1.55},{"t":16700,"s":4,"r":0.18,"v":-1.7},{"t":17000,"s":4,"r":0.05,"v":-1.48},{"t":17300,"s":4,"r":0.11,"v":-1.92},{"t":17600,"s":4,"r":0.09,"v":-1.63},{"t":17900,"s":4,"r":0.15,"v":-1.76},{"t":18200,"s":4,"r":0.04,"v":-1.52},{"t":18500,"s":4,"r":0.12,"v":-1.66},{"t":18800,"s":4,"r":0.07,"v":-2.0},{"t":19100,"s":4,"r":0.2,"v":-1.46},{"t":19400,"s":4,"r":0.1,"v":-1.73},{"t":19700,"s":4,"r":0.06,"v":-1.6},{"t":20000,"s":4,"r":0.13,"v":-1.83},{"t":20300,"s":4,"r":0.09,"v":-1.5},{"t":20600,"s":4,"r":0.16,"v":-1.77},{"t":20900,"s":4,"r":0.05,"v":-1.64},{"t":21200,"s":4,"r":0.11,"v":-1.88},{"t":21500,"s":4,"r":0.08,"v":-1.42},{"t":21800,"s":4,"r":0.14,"v":-1.67},{"t":22100,"s":4,"r":0.1,"v":-1.8},{"t":22400,"s":4,"r":0.03,"v":-1.56},{"t":22700,"s":4,"r":0.17,"v":-1.71},{"t":23000,"s":4,"r":0.09,"v":-1.53},{"t":23300,"s":4,"r":0.12,"v":-1.86},{"t":23600,"s":4,"r":0.06,"v":-1.6},{"t":23900,"s":4,"r":0.15,"v":-1.74},{"t":24200,"s":4,"r":0.08,"v":-1.49},{"t":24500,"s":4,"r":0.11,"v":-1.65},{"t":24800,"s":4,"r":0.05,"v":-1.9},{"t":25100,"s":4,"r":0.19,"v":-1.57},{"t":25400,"s":4,"r":0.1,"v":-1.72},{"t":25700,"s":4,"r":0.07,"v":-1.63},{"t":26000,"s":4,"r":0.13,"v":-1.79},{"t":26300,"s":4,"r":0.09,"v":-1.65},{"t":26600,"s":4,"r":0.14,"v":-1.8},{"t":26900,"s":4,"r":0.06,"v":-1.5},{"t":27200,"s":4,"r":0.12,"v":-1.72},{"t":27500,"s":4,"r":0.08,"v":-1.45},
{"t":27800,"s":4,"r":0.09,"v":-1.75},{"t":28100,"s":4,"r":1.3,"v":0.3},{"t":28400,"s":4,"r":0.9,"v":-0.7},{"t":28700,"s":4,"r":1.7,"v":1.0},{"t":29000,"s":4,"r":1.1,"v":-0.2},{"t":29300,"s":4,"r":0.3,"v":-3.1},{"t":29600,"s":4,"r":1.45,"v":0.5},{"t":29900,"s":4,"r":1.05,"v":-0.3},
{"t":19150,"s":4,"r":1.61,"v":0.15},
{"t":350,"s":4,"r":0.28,"v":-1.2},{"t":650,"s":4,"r":1.55,"v":0.7},{"t":950,"s":4,"r":1.25,"v":0.1},{"t":1250,"s":4,"r":1.7,"v":1.0},{"t":1550,"s":4,"r":0.9,"v":-0.7},{"t":1850,"s":4,"r":1.45,"v":0.5},{"t":2150,"s":4,"r":1.6,"v":0.8},{"t":2450,"s":4,"r":0.85,"v":-0.8},{"t":2750,"s":4,"r":0.22,"v":-1.35},
{"t":3050,"s":4,"r":0.03,"v":-2.04},{"t":3350,"s":4,"r":1.55,"v":0.1},{"t":3650,"s":4,"r":0.02,"v":-2.12},{"t":3950,"s":4,"r":0.21,"v":-1.38},{"t":4250,"s":4,"r":0.04,"v":-2.0},{"t":4550,"s":4,"r":0.27,"v":-1.24},{"t":4850,"s":4,"r":0.01,"v":-2.15},{"t":5150,"s":4,"r":0.23,"v":-1.33},{"t":5450,"s":4,"r":1.1,"v":-0.2},
{"t":5750,"s":4,"r":1.6,"v":0.8},{"t":6050,"s":4,"r":0.85,"v":-0.8},{"t":6350,"s":4,"r":1.3,"v":0.3},{"t":6650,"s":4,"r":1.0,"v":-0.4},{"t":6950,"s":4,"r":1.5,"v":0.6},{"t":7250,"s":4,"r":1.15,"v":0.0},{"t":7550,"s":4,"r":0.7,"v":-1.2},{"t":7850,"s":4,"r":1.35,"v":0.3},{"t":8150,"s":4,"r":1.75,"v":1.1},{"t":8450,"s":4,"r":1.0,"v":-0.3},{"t":8750,"s":4,"r":1.2,"v":0.1},{"t":9050,"s":4,"r":0.8,"v":-0.9},{"t":9350,"s":4,"r":1.55,"v":0.7},{"t":9650,"s":4,"r":1.0,"v":-0.4},{"t":9950,"s":4,"r":1.45,"v":0.5},{"t":10250,"s":4,"r":0.9,"v":-0.6},{"t":10550,"s":4,"r":1.7,"v":1.0},{"t":10850,"s":4,"r":1.05,"v":-0.3},{"t":11150,"s":4,"r":1.3,"v":0.3},{"t":11450,"s":4,"r":0.8,"v":-1.0},{"t":11750,"s":4,"r":1.45,"v":0.5},{"t":12050,"s":4,"r":1.0,"v":-0.4},{"t":12350,"s":4,"r":1.55,"v":0.7},{"t":12650,"s":4,"r":1.2,"v":0.0},{"t":12950,"s":4,"r":0.7,"v":-1.2},{"t":13250,"s":4,"r":0.9,"v":-0.6},
{"t":13550,"s":4,"r":0.03,"v":-2.07},{"t":13850,"s":4,"r":0.2,"v":-1.39},{"t":14150,"s":4,"r":0.01,"v":-2.16},{"t":14450,"s":4,"r":0.24,"v":-1.29},{"t":14750,"s":4,"r":0.06,"v":-1.96},{"t":15050,"s":4,"r":0.21,"v":-1.38},{"t":15350,"s":4,"r":0.27,"v":-1.23},{"t":15650,"s":4,"r":0.02,"v":-2.11},{"t":15950,"s":4,"r":0.25,"v":-1.31},{"t":16250,"s":4,"r":0.03,"v":-2.04},{"t":16550,"s":4,"r":0.19,"v":-1.44},{"t":16850,"s":4,"r":0.23,"v":-1.32},{"t":17150,"s":4,"r":0.24,"v":-1.3},{"t":17450,"s":4,"r":0.02,"v":-2.05},{"t":17750,"s":4,"r":0.21,"v":-1.38},{"t":18050,"s":4,"r":0.27,"v":-1.25},{"t":18350,"s":4,"r":0.03,"v":-2.1},{"t":18650,"s":4,"r":0.19,"v":-1.42},{"t":18950,"s":4,"r":0.01,"v":-2.15},{"t":19250,"s":4,"r":0.25,"v":-1.28},{"t":19550,"s":4,"r":0.05,"v":-1.98},{"t":19850,"s":4,"r":0.22,"v":-1.35},{"t":20150,"s":4,"r":0.28,"v":-1.22},{"t":20450,"s":4,"r":0.02,"v":-2.08},{"t":20750,"s":4,"r":0.2,"v":-1.4},{"t":21050,"s":4,"r":0.04,"v":-2.0},{"t":21350,"s":4,"r":0.26,"v":-1.27},{"t":21650,"s":4,"r":0.01,"v":-2.18},{"t":21950,"s":4,"r":0.23,"v":-1.33},{"t":22250,"s":4,"r":0.06,"v":-1.95},{"t":22550,"s":4,"r":0.18,"v":-1.45},{"t":22850,"s":4,"r":0.29,"v":-1.2},{"t":23150,"s":4,"r":0.03,"v":-2.06},{"t":23450,"s":4,"r":0.21,"v":-1.37},{"t":23750,"s":4,"r":0.02,"v":-2.12},{"t":24050,"s":4,"r":0.25,"v":-1.3},{"t":24350,"s":4,"r":0.04,"v":-2.02},{"t":24650,"s":4,"r":0.2,"v":-1.41},{"t":24950,"s":4,"r":0.27,"v":-1.24},{"t":25250,"s":4,"r":0.01,"v":-2.2},{"t":25550,"s":4,"r":0.23,"v":-1.34},{"t":25850,"s":4,"r":0.05,"v":-1.97},{"t":26150,"s":4,"r":0.19,"v":-1.43},{"t":26450,"s":4,"r":0.26,"v":-1.26},{"t":26750,"s":4,"r":0.02,"v":-2.1},{"t":27050,"s":4,"r":0.22,"v":-1.36},{"t":27350,"s":4,"r":0.04,"v":-2.03},{"t":27650,"s":4,"r":0.28,"v":-1.21},
{"t":27950,"s":4,"r":0.6,"v":-1.1},{"t":28250,"s":4,"r":1.75,"v":1.1},{"t":28550,"s":4,"r":1.2,"v":0.0},{"t":28850,"s":4,"r":0.85,"v":-0.8},{"t":29150,"s":4,"r":1.5,"v":0.6},{"t":29450,"s":4,"r":1.0,"v":-0.4},{"t":29750,"s":4,"r":0.15,"v":-1.6},

{"t":250,"s":5,"r":1.25,"v":0.2},{"t":550,"s":5,"r":0.85,"v":-0.8},{"t":850,"s":5,"r":1.6,"v":0.9},{"t":1150,"s":5,"r":1.1,"v":-0.1},{"t":1450,"s":5,"r":1.9,"v":1.3},{"t":1750,"s":5,"r":0.95,"v":-0.6},{"t":2050,"s":5,"r":1.35,"v":0.4},{"t":2350,"s":5,"r":1.05,"v":-0.3},{"t":2650,"s":5,"r":0.1,"v":-1.65},
{"t":2950,"s":5,"r":0.13,"v":-1.58},{"t":3250,"s":5,"r":0.08,"v":-1.76},{"t":3550,"s":5,"r":0.11,"v":-1.65},{"t":3850,"s":5,"r":0.05,"v":-1.87},{"t":4150,"s":5,"r":0.15,"v":-1.52},{"t":4450,"s":5,"r":0.09,"v":-1.71},{"t":4750,"s":5,"r":0.12,"v":-1.6},{"t":5050,"s":5,"r":0.07,"v":-1.82},{"t":5350,"s":5,"r":0.14,"v":-1.56},
{"t":5650,"s":5,"r":1.35,"v":0.4},{"t":5950,"s":5,"r":0.8,"v":-0.9},{"t":6250,"s":5,"r":1.5,"v":0.6},{"t":6550,"s":5,"r":1.0,"v":-0.3},{"t":6850,"s":5,"r":1.25,"v":0.1},{"t":7150,"s":5,"r":2.0,"v":1.4},{"t":7450,"s":5,"r":0.5,"v":-2.9},{"t":7750,"s":5,"r":1.4,"v":0.4},{"t":8050,"s":5,"r":1.1,"v":-0.2},{"t":8350,"s":5,"r":0.7,"v":-1.2},{"t":8650,"s":5,"r":1.6,"v":0.9},{"t":8950,"s":5,"r":1.2,"v":0.0},{"t":9250,"s":5,"r":0.9,"v":-0.7},{"t":9550,"s":5,"r":1.45,"v":0.5},{"t":9850,"s":5,"r":1.05,"v":-0.3},{"t":10150,"s":5,"r":1.8,"v":1.2},{"t":10450,"s":5,"r":0.8,"v":-1.0},{"t":10750,"s":5,"r":1.3,"v":0.3},{"t":11050,"s":5,"r":1.15,"v":-0.1},{"t":11350,"s":5,"r":0.65,"v":-1.5},{"t":11650,"s":5,"r":1.55,"v":0.7},{"t":11950,"s":5,"r":1.0,"v":-0.4},{"t":12250,"s":5,"r":1.4,"v":0.4},{"t":12550,"s":5,"r":0.9,"v":-0.7},{"t":12850,"s":5,"r":1.7,"v":1.0},{"t":13150,"s":5,"r":1.1,"v":-0.2},
{"t":13450,"s":5,"r":0.06,"v":-1.48},{"t":13750,"s":5,"r":0.15,"v":-1.92},{"t":14050,"s":5,"r":0.08,"v":-1.63},{"t":14350,"s":5,"r":0.11,"v":-1.76},{"t":14650,"s":5,"r":0.05,"v":-1.52},{"t":14950,"s":5,"r":0.19,"v":-1.66},{"t":15250,"s":5,"r":0.1,"v":-2.0},{"t":15550,"s":5,"r":0.07,"v":-1.46},{"t":15850,"s":5,"r":0.13,"v":-1.73},{"t":16150,"s":5,"r":0.09,"v":-1.6},{"t":16450,"s":5,"r":0.14,"v":-1.83},{"t":16750,"s":5,"r":0.06,"v":-1.5},{"t":17050,"s":5,"r":0.12,"v":-1.77},{"t":17350,"s":5,"r":0.08,"v":-1.64},{"t":17650,"s":5,"r":0.16,"v":-1.88},{"t":17950,"s":5,"r":0.1,"v":-1.42},{"t":18250,"s":5,"r":0.05,"v":-1.67},{"t":18550,"s":5,"r":0.13,"v":-1.8},{"t":18850,"s":5,"r":0.09,"v":-1.56},{"t":19150,"s":5,"r":0.11,"v":-1.71},{"t":19450,"s":5,"r":0.07,"v":-1.53},{"t":19750,"s":5,"r":0.1,"v":-1.86},{"t":20050,"s":5,"r":0.06,"v":-1.6},{"t":20350,"s":5,"r":0.14,"v":-1.74},{"t":20650,"s":5,"r":0.08,"v":-1.49},{"t":20950,"s":5,"r":0.18,"v":-1.65},{"t":21250,"s":5,"r":0.05,"v":-1.9},{"t":21550,"s":5,"r":0.11,"v":-1.57},{"t":21850,"s":5,"r":0.09,"v":-1.72},{"t":22150,"s":5,"r":0.15,"v":-1.63},{"t":22450,"s":5,"r":0.04,"v":-1.79},{"t":22750,"s":5,"r":0.12,"v":-1.65},{"t":23050,"s":5,"r":0.07,"v":-1.8},{"t":23350,"s":5,"r":0.2,"v":-1.5},{"t":23650,"s":5,"r":0.1,"v":-1.72},{"t":23950,"s":5,"r":0.06,"v":-1.45},{"t":24250,"s":5,"r":0.13,"v":-1.9},{"t":24550,"s":5,"r":0.09,"v":-1.6},{"t":24850,"s":5,"r":0.16,"v":-1.75},{"t":25150,"s":5,"r":0.05,"v":-1.55},{"t":25450,"s":5,"r":0.11,"v":-1.95},{"t":25750,"s":5,"r":0.08,"v":-1.62},{"t":26050,"s":5,"r":0.14,"v":-1.78},{"t":26350,"s":5,"r":0.1,"v":-1.4},{"t":26650,"s":5,"r":0.03,"v":-1.68},{"t":26950,"s":5,"r":0.17,"v":-1.85},{"t":27250,"s":5,"r":0.09,"v":-1.55},{"t":27550,"s":5,"r":0.12,"v":-1.7},
{"t":27850,"s":5,"r":1.2,"v":0.1},{"t":28150,"s":5,"r":0.85,"v":-0.8},{"t":28450,"s":5,"r":1.55,"v":0.7},{"t":28750,"s":5,"r":1.0,"v":-0.3},{"t":29050,"s":5,"r":1.3,"v":0.3},{"t":29350,"s":5,"r":0.75,"v":-1.0},{"t":29650,"s":5,"r":1.6,"v":0.8},{"t":29950,"s":5,"r":1.15,"v":0.0},
{"t":24500,"s":5,"r":1.17,"v":0.4},
{"t":400,"s":5,"r":0.95,"v":-0.5},{"t":700,"s":5,"r":1.45,"v":0.5},{"t":1000,"s":5,"r":0.8,"v":-0.9},{"t":1300,"s":5,"r":1.35,"v":0.3},{"t":1600,"s":5,"r":1.0,"v":-0.4},{"t":1900,"s":5,"r":1.65,"v":0.9},{"t":2200,"s":5,"r":0.7,"v":-1.2},{"t":2500,"s":5,"r":1.3,"v":0.2},{"t":2800,"s":5,"r":0.02,"v":-2.08},
{"t":3100,"s":5,"r":0.26,"v":-1.26},{"t":3400,"s":5,"r":0.03,"v":-2.05},{"t":3700,"s":5,"r":0.23,"v":-1.34},{"t":4000,"s":5,"r":0.01,"v":-2.14},{"t":4300,"s":5,"r":0.25,"v":-1.3},{"t":4600,"s":5,"r":0.04,"v":-2.0},{"t":4900,"s":5,"r":0.2,"v":-1.4},{"t":5200,"s":5,"r":0.02,"v":-2.1},{"t":5500,"s":5,"r":0.9,"v":-0.6},
{"t":5800,"s":5,"r":1.15,"v":0.0},{"t":6100,"s":5,"r":1.7,"v":1.0},{"t":6400,"s":5,"r":0.9,"v":-0.6},{"t":6700,"s":5,"r":1.4,"v":0.4},{"t":7000,"s":5,"r":0.85,"v":-0.8},{"t":7300,"s":5,"r":1.2,"v":0.1},{"t":7600,"s":5,"r":1.65,"v":0.9},{"t":7900,"s":5,"r":0.95,"v":-0.5},{"t":8200,"s":5,"r":1.3,"v":0.3},{"t":8500,"s":5,"r":1.05,"v":-0.2},{"t":8800,"s":5,"r":0.75,"v":-1.1},{"t":9100,"s":5,"r":1.45,"v":0.5},{"t":9400,"s":5,"r":1.7,"v":1.1},{"t":9700,"s":5,"r":0.85,"v":-0.8},{"t":10000,"s":5,"r":1.2,"v":0.1},{"t":10300,"s":5,"r":1.0,"v":-0.4},{"t":10600,"s":5,"r":1.55,"v":0.7},{"t":10900,"s":5,"r":0.9,"v":-0.6},{"t":11200,"s":5,"r":1.4,"v":0.4},{"t":11500,"s":5,"r":1.1,"v":-0.1},{"t":11800,"s":5,"r":0.8,"v":-0.9},{"t":12100,"s":5,"r":1.6,"v":0.8},{"t":12400,"s":5,"r":1.05,"v":-0.3},{"t":12700,"s":5,"r":1.3,"v":0.2},{"t":13000,"s":5,"r":0.95,"v":-0.5},{"t":13300,"s":5,"r":0.45,"v":-1.3},
{"t":13600,"s":5,"r":0.03,"v":-2.1},{"t":13900,"s":5,"r":0.19,"v":-1.42},{"t":14200,"s":5,"r":0.01,"v":-2.15},{"t":14500,"s":5,"r":0.25,"v":-1.28},{"t":14800,"s":5,"r":0.05,"v":-1.98},{"t":15100,"s":5,"r":0.22,"v":-1.35},{"t":15400,"s":5,"r":0.28,"v":-1.22},{"t":15700,"s":5,"r":0.02,"v":-2.08},{"t":16000,"s":5,"r":0.2,"v":-1.4},{"t":16300,"s":5,"r":0.04,"v":-2.0},{"t":16600,"s":5,"r":0.26,"v":-1.27},{"t":16900,"s":5,"r":0.01,"v":-2.18},{"t":17200,"s":5,"r":0.23,"v":-1.33},{"t":17500,"s":5,"r":0.06,"v":-1.95},{"t":17800,"s":5,"r":0.18,"v":-1.45},{"t":18100,"s":5,"r":0.29,"v":-1.2},{"t":18400,"s":5,"r":0.03,"v":-2.06},{"t":18700,"s":5,"r":0.21,"v":-1.37},{"t":19000,"s":5,"r":0.02,"v":-2.12},{"t":19300,"s":5,"r":0.25,"v":-1.3},{"t":19600,"s":5,"r":0.04,"v":-2.02},{"t":19900,"s":5,"r":0.2,"v":-1.41},{"t":20200,"s":5,"r":0.27,"v":-1.24},{"t":20500,"s":5,"r":0.01,"v":-2.2},{"t":20800,"s":5,"r":0.23,"v":-1.34},{"t":21100,"s":5,"r":0.05,"v":-1.97},{"t":21400,"s":5,"r":0.19,"v":-1.43},{"t":21700,"s":5,"r":0.26,"v":-1.26},{"t":22000,"s":5,"r":0.02,"v":-2.1},{"t":22300,"s":5,"r":0.22,"v":-1.36},{"t":22600,"s":5,"r":0.04,"v":-2.03},{"t":22900,"s":5,"r":0.28,"v":-1.21},{"t":23200,"s":5,"r":0.03,"v":-2.07},{"t":23500,"s":5,"r":0.2,"v":-1.39},{"t":23800,"s":5,"r":0.01,"v":-2.16},{"t":24100,"s":5,"r":0.24,"v":-1.29},{"t":24400,"s":5,"r":0.06,"v":-1.96},{"t":24700,"s":5,"r":0.21,"v":-1.38},{"t":25000,"s":5,"r":0.27,"v":-1.23},{"t":25300,"s":5,"r":0.02,"v":-2.11},{"t":25600,"s":5,"r":0.25,"v":-1.31},{"t":25900,"s":5,"r":0.03,"v":-2.04},{"t":26200,"s":5,"r":0.19,"v":-1.44},{"t":26500,"s":5,"r":0.23,"v":-1.32},{"t":26800,"s":5,"r":0.24,"v":-1.3},{"t":27100,"s":5,"r":0.02,"v":-2.05},{"t":27400,"s":5,"r":0.21,"v":-1.38},
{"t":27700,"s":5,"r":0.9,"v":-0.6},{"t":28000,"s":5,"r":1.65,"v":0.9},{"t":28300,"s":5,"r":1.1,"v":-0.1},{"t":28600,"s":5,"r":0.8,"v":-0.9},{"t":28900,"s":5,"r":1.5,"v":0.6},{"t":29200,"s":5,"r":1.2,"v":0.1},{"t":29500,"s":5,"r":1.85,"v":1.2},{"t":29800,"s":5,"r":0.9,"v":-0.6}
],
"bold": [
{"t":300,"s":0,"b":-0.0013},{"t":300,"s":1,"b":-0.0013},{"t":300,"s":2,"b":-0.0013},{"t":300,"s":3,"b":-0.0013},{"t":300,"s":4,"b":-0.0013},{"t":300,"s":5,"b":-0.0013},
{"t":560,"s":0,"b":0.0},{"t":560,"s":1,"b":0.0},{"t":560,"s":2,"b":0.0},{"t":560,"s":3,"b":0.0},{"t":560,"s":4,"b":0.0},{"t":560,"s":5,"b":0.0},
{"t":900,"s":0,"b":0.0077},{"t":900,"s":1,"b":0.0085},{"t":900,"s":2,"b":0.0077},{"t":900,"s":3,"b":0.0083},{"t":900,"s":4,"b":0.0077},{"t":900,"s":5,"b":0.0077},
{"t":1300,"s":0,"b":0.0255},{"t":1300,"s":1,"b":0.0285},{"t":1300,"s":2,"b":0.025},{"t":1300,"s":3,"b":0.0275},{"t":1300,"s":4,"b":0.0255},{"t":1300,"s":5,"b":0.026},
{"t":1800,"s":0,"b":0.048},{"t":1800,"s":1,"b":0.052},{"t":1800,"s":2,"b":0.047},{"t":1800,"s":3,"b":0.051},{"t":1800,"s":4,"b":0.0485},{"t":1800,"s":5,"b":0.049},
{"t":2250,"s":0,"b":0.065},{"t":2250,"s":1,"b":0.0685},{"t":2250,"s":2,"b":0.0645},{"t":2250,"s":3,"b":0.0675},{"t":2250,"s":4,"b":0.066},{"t":2250,"s":5,"b":0.066},
{"t":2800,"s":0,"b":0.081},{"t":2800,"s":1,"b":0.083},{"t":2800,"s":2,"b":0.0805},{"t":2800,"s":3,"b":0.0825},{"t":2800,"s":4,"b":0.0825},{"t":2800,"s":5,"b":0.0815},
{"t":3400,"s":0,"b":0.0888},{"t":3400,"s":1,"b":0.0885},{"t":3400,"s":2,"b":0.0886},{"t":3400,"s":3,"b":0.0888},{"t":3400,"s":4,"b":0.0905},{"t":3400,"s":5,"b":0.089},
{"t":4000,"s":0,"b":0.0905},{"t":4000,"s":1,"b":0.0888},{"t":4000,"s":2,"b":0.0902},{"t":4000,"s":3,"b":0.0895},{"t":4000,"s":4,"b":0.0925},{"t":4000,"s":5,"b":0.0908},
{"t":4600,"s":0,"b":0.0888},{"t":4600,"s":1,"b":0.0865},{"t":4600,"s":2,"b":0.0886},{"t":4600,"s":3,"b":0.0872},{"t":4600,"s":4,"b":0.091},{"t":4600,"s":5,"b":0.089},
{"t":5150,"s":0,"b":0.0842},{"t":5150,"s":1,"b":0.0815},{"t":5150,"s":2,"b":0.084},{"t":5150,"s":3,"b":0.0825},{"t":5150,"s":4,"b":0.0868},{"t":5150,"s":5,"b":0.0845},
{"t":5700,"s":0,"b":0.0765},{"t":5700,"s":1,"b":0.073},{"t":5700,"s":2,"b":0.0762},{"t":5700,"s":3,"b":0.0742},{"t":5700,"s":4,"b":0.0795},{"t":5700,"s":5,"b":0.077},
{"t":6300,"s":0,"b":0.0672},{"t":6300,"s":1,"b":0.063},{"t":6300,"s":2,"b":0.0668},{"t":6300,"s":3,"b":0.0645},{"t":6300,"s":4,"b":0.0705},{"t":6300,"s":5,"b":0.0678},
{"t":6900,"s":0,"b":0.0605},{"t":6900,"s":1,"b":0.0555},{"t":6900,"s":2,"b":0.06},{"t":6900,"s":3,"b":0.057},{"t":6900,"s":4,"b":0.064},{"t":6900,"s":5,"b":0.0612},
{"t":7350,"s":0,"b":0.059},{"t":7350,"s":1,"b":0.0527},{"t":7350,"s":2,"b":0.058},{"t":7350,"s":3,"b":0.0547},{"t":7350,"s":4,"b":0.063},{"t":7350,"s":5,"b":0.06},
{"t":8000,"s":0,"b":0.0625},{"t":8000,"s":1,"b":0.0545},{"t":8000,"s":2,"b":0.0615},{"t":8000,"s":3,"b":0.058},{"t":8000,"s":4,"b":0.066},{"t":8000,"s":5,"b":0.063},
{"t":8600,"s":0,"b":0.0715},{"t":8600,"s":1,"b":0.0635},{"t":8600,"s":2,"b":0.071},{"t":8600,"s":3,"b":0.068},{"t":8600,"s":4,"b":0.0745},{"t":8600,"s":5,"b":0.072},
{"t":9200,"s":0,"b":0.0795},{"t":9200,"s":1,"b":0.0725},{"t":9200,"s":2,"b":0.079},{"t":9200,"s":3,"b":0.0765},{"t":9200,"s":4,"b":0.0815},{"t":9200,"s":5,"b":0.0795},
{"t":9800,"s":0,"b":0.0845},{"t":9800,"s":1,"b":0.079},{"t":9800,"s":2,"b":0.0843},{"t":9800,"s":3,"b":0.0825},{"t":9800,"s":4,"b":0.086},{"t":9800,"s":5,"b":0.0845},
{"t":10400,"s":0,"b":0.0882},{"t":10400,"s":1,"b":0.084},{"t":10400,"s":2,"b":0.088},{"t":10400,"s":3,"b":0.0868},{"t":10400,"s":4,"b":0.0893},{"t":10400,"s":5,"b":0.0882},
{"t":11500,"s":0,"b":0.0925},{"t":11500,"s":1,"b":0.0905},{"t":11500,"s":2,"b":0.0925},{"t":11500,"s":3,"b":0.092},{"t":11500,"s":4,"b":0.093},{"t":11500,"s":5,"b":0.0926},
{"t":12700,"s":0,"b":0.0942},{"t":12700,"s":1,"b":0.0935},{"t":12700,"s":2,"b":0.0942},{"t":12700,"s":3,"b":0.0942},{"t":12700,"s":4,"b":0.0944},{"t":12700,"s":5,"b":0.0943},
{"t":13800,"s":0,"b":0.0935},{"t":13800,"s":1,"b":0.0925},{"t":13800,"s":2,"b":0.0938},{"t":13800,"s":3,"b":0.0934},{"t":13800,"s":4,"b":0.0933},{"t":13800,"s":5,"b":0.0934},
{"t":14500,"s":0,"b":0.0906},{"t":14500,"s":1,"b":0.0875},{"t":14500,"s":2,"b":0.0912},{"t":14500,"s":3,"b":0.0905},{"t":14500,"s":4,"b":0.0902},{"t":14500,"s":5,"b":0.0905},
{"t":15600,"s":0,"b":0.0815},{"t":15600,"s":1,"b":0.0775},{"t":15600,"s":2,"b":0.0835},{"t":15600,"s":3,"b":0.0815},{"t":15600,"s":4,"b":0.081},{"t":15600,"s":5,"b":0.0818},
{"t":16700,"s":0,"b":0.0605},{"t":16700,"s":1,"b":0.0555},{"t":16700,"s":2,"b":0.0632},{"t":16700,"s":3,"b":0.06},{"t":16700,"s":4,"b":0.0598},{"t":16700,"s":5,"b":0.061},
{"t":17300,"s":0,"b":0.0447},{"t":17300,"s":1,"b":0.04},{"t":17300,"s":2,"b":0.048},{"t":17300,"s":3,"b":0.044},{"t":17300,"s":4,"b":0.044},{"t":17300,"s":5,"b":0.045},
{"t":17900,"s":0,"b":0.029},{"t":17900,"s":1,"b":0.0255},{"t":17900,"s":2,"b":0.0318},{"t":17900,"s":3,"b":0.028},{"t":17900,"s":4,"b":0.0285},{"t":17900,"s":5,"b":0.029},
{"t":18500,"s":0,"b":0.017},{"t":18500,"s":1,"b":0.0155},{"t":18500,"s":2,"b":0.0192},{"t":18500,"s":3,"b":0.0165},{"t":18500,"s":4,"b":0.0168},{"t":18500,"s":5,"b":0.017},
{"t":19000,"s":0,"b":0.0095},{"t":19000,"s":1,"b":0.0092},{"t":19000,"s":2,"b":0.011},{"t":19000,"s":3,"b":0.0095},{"t":19000,"s":4,"b":0.0094},{"t":19000,"s":5,"b":0.0095},
{"t":19600,"s":0,"b":0.005},{"t":19600,"s":1,"b":0.0058},{"t":19600,"s":2,"b":0.0058},{"t":19600,"s":3,"b":0.0056},{"t":19600,"s":4,"b":0.0051},{"t":19600,"s":5,"b":0.0052},
{"t":20200,"s":0,"b":0.0033},{"t":20200,"s":1,"b":0.0048},{"t":20200,"s":2,"b":0.0035},{"t":20200,"s":3,"b":0.0045},{"t":20200,"s":4,"b":0.0036},{"t":20200,"s":5,"b":0.0038},
{"t":20800,"s":0,"b":0.0022},{"t":20800,"s":1,"b":0.0055},{"t":20800,"s":2,"b":0.0018},{"t":20800,"s":3,"b":0.0048},{"t":20800,"s":4,"b":0.0025},{"t":20800,"s":5,"b":0.0028},
{"t":21400,"s":0,"b":0.003},{"t":21400,"s":1,"b":0.008},{"t":21400,"s":2,"b":0.0022},{"t":21400,"s":3,"b":0.007},{"t":21400,"s":4,"b":0.0035},{"t":21400,"s":5,"b":0.004},
{"t":22000,"s":0,"b":0.0065},{"t":22000,"s":1,"b":0.0125},{"t":22000,"s":2,"b":0.005},{"t":22000,"s":3,"b":0.0115},{"t":22000,"s":4,"b":0.007},{"t":22000,"s":5,"b":0.0075},
{"t":22500,"s":0,"b":0.0112},{"t":22500,"s":1,"b":0.0168},{"t":22500,"s":2,"b":0.0092},{"t":22500,"s":3,"b":0.016},{"t":22500,"s":4,"b":0.0115},{"t":22500,"s":5,"b":0.012},
{"t":23100,"s":0,"b":0.0155},{"t":23100,"s":1,"b":0.0205},{"t":23100,"s":2,"b":0.0135},{"t":23100,"s":3,"b":0.0198},{"t":23100,"s":4,"b":0.0155},{"t":23100,"s":5,"b":0.016},
{"t":23700,"s":0,"b":0.0198},{"t":23700,"s":1,"b":0.0235},{"t":23700,"s":2,"b":0.0175},{"t":23700,"s":3,"b":0.0228},{"t":23700,"s":4,"b":0.0195},{"t":23700,"s":5,"b":0.0198},
{"t":24300,"s":0,"b":0.0235},{"t":24300,"s":1,"b":0.0255},{"t":24300,"s":2,"b":0.021},{"t":24300,"s":3,"b":0.025},{"t":24300,"s":4,"b":0.0228},{"t":24300,"s":5,"b":0.023},
{"t":24900,"s":0,"b":0.027},{"t":24900,"s":1,"b":0.0265},{"t":24900,"s":2,"b":0.0245},{"t":24900,"s":3,"b":0.026},{"t":24900,"s":4,"b":0.0255},{"t":24900,"s":5,"b":0.0257},
{"t":25400,"s":0,"b":0.03},{"t":25400,"s":1,"b":0.0275},{"t":25400,"s":2,"b":0.027},{"t":25400,"s":3,"b":0.026},{"t":25400,"s":4,"b":0.0265},{"t":25400,"s":5,"b":0.0268},
{"t":26000,"s":0,"b":0.0325},{"t":26000,"s":1,"b":0.0285},{"t":26000,"s":2,"b":0.029},{"t":26000,"s":3,"b":0.0262},{"t":26000,"s":4,"b":0.027},{"t":26000,"s":5,"b":0.0275},
{"t":26600,"s":0,"b":0.0322},{"t":26600,"s":1,"b":0.029},{"t":26600,"s":2,"b":0.0295},{"t":26600,"s":3,"b":0.025},{"t":26600,"s":4,"b":0.0265},{"t":26600,"s":5,"b":0.0272},
{"t":27200,"s":0,"b":0.03},{"t":27200,"s":1,"b":0.0295},{"t":27200,"s":2,"b":0.029},{"t":27200,"s":3,"b":0.0235},{"t":27200,"s":4,"b":0.025},{"t":27200,"s":5,"b":0.026},
{"t":27800,"s":0,"b":0.028},{"t":27800,"s":1,"b":0.03},{"t":27800,"s":2,"b":0.0275},{"t":27800,"s":3,"b":0.022},{"t":27800,"s":4,"b":0.0235},{"t":27800,"s":5,"b":0.0248},
{"t":28300,"s":0,"b":0.0262},{"t":28300,"s":1,"b":0.0305},{"t":28300,"s":2,"b":0.0265},{"t":28300,"s":3,"b":0.0215},{"t":28300,"s":4,"b":0.023},{"t":28300,"s":5,"b":0.024},
{"t":28700,"s":0,"b":0.027},{"t":28700,"s":1,"b":0.034},{"t":28700,"s":2,"b":0.028},{"t":28700,"s":3,"b":0.0225},{"t":28700,"s":4,"b":0.0255},{"t":28700,"s":5,"b":0.0255},
{"t":29000,"s":0,"b":0.03},{"t":29000,"s":1,"b":0.04},{"t":29000,"s":2,"b":0.031},{"t":29000,"s":3,"b":0.026},{"t":29000,"s":4,"b":0.031},{"t":29000,"s":5,"b":0.0285},
{"t":29400,"s":0,"b":0.036},{"t":29400,"s":1,"b":0.047},{"t":29400,"s":2,"b":0.037},{"t":29400,"s":3,"b":0.032},{"t":29400,"s":4,"b":0.041},{"t":29400,"s":5,"b":0.034},
{"t":29720,"s":0,"b":0.043},{"t":29720,"s":1,"b":0.055},{"t":29720,"s":2,"b":0.044},{"t":29720,"s":3,"b":0.039},{"t":29720,"s":4,"b":0.051},{"t":29720,"s":5,"b":0.04}
]
},
"vconcat": [
{
"width": 930, "height": 136,
"data": {"name": "rv"},
"mark": {"type": "line", "clip": true, "strokeWidth": 0.6, "opacity": 0.5},
"encoding": {
"x": {"field": "t", "type": "quantitative", "scale": {"domain": [-1490, 31500], "nice": false, "zero": false}, "axis": {"title": null, "values": [0, 5000, 10000, 15000, 20000, 25000, 30000], "format": "d"}},
"y": {"field": "r", "type": "quantitative", "scale": {"domain": [-0.136, 3.095], "nice": false, "zero": false}, "axis": {"title": "r", "values": [0, 2], "format": "d", "titleX": -31.5, "titleY": 68}},
"color": {"field": "s", "type": "nominal", "scale": {"domain": [0, 1, 2, 3, 4, 5], "range": ["#1f77b4", "#ff7f0e", "#2ca02c", "#d62728", "#9467bd", "#8c564b"]}, "legend": null}
}
},
{
"width": 930, "height": 136,
"data": {"name": "rv"},
"mark": {"type": "line", "clip": true, "strokeWidth": 0.6, "opacity": 0.5},
"encoding": {
"x": {"field": "t", "type": "quantitative", "scale": {"domain": [-1490, 31500], "nice": false, "zero": false}, "axis": {"title": null, "values": [0, 5000, 10000, 15000, 20000, 25000, 30000], "format": "d"}},
"y": {"field": "v", "type": "quantitative", "scale": {"domain": [-3.6, 3.95], "nice": false, "zero": false}, "axis": {"title": "v", "values": [-2.5, 0, 2.5], "format": ".1f", "titleX": -67, "titleY": 68}},
"color": {"field": "s", "type": "nominal", "scale": {"domain": [0, 1, 2, 3, 4, 5], "range": ["#1f77b4", "#ff7f0e", "#2ca02c", "#d62728", "#9467bd", "#8c564b"]}, "legend": null}
}
},
{
"width": 930, "height": 136,
"data": {"name": "bold"},
"mark": {"type": "line", "clip": true, "strokeWidth": 0.7, "opacity": 0.4, "interpolate": "monotone"},
"encoding": {
"x": {"field": "t", "type": "quantitative", "scale": {"domain": [-1162, 31193], "nice": false, "zero": false}, "axis": {"title": null, "values": [0, 5000, 10000, 15000, 20000, 25000, 30000], "format": "d"}},
"y": {"field": "b", "type": "quantitative", "scale": {"domain": [-0.0061, 0.1008], "nice": false, "zero": false}, "axis": {"title": "BOLD", "values": [0, 0.05, 0.1], "format": ".2f", "titleX": -61.5, "titleY": 68}},
"color": {"field": "s", "type": "nominal", "scale": {"domain": [0, 1, 2, 3, 4, 5], "range": ["#1f77b4", "#ff7f0e", "#2ca02c", "#d62728", "#9467bd", "#8c564b"]}, "legend": null}
}
}
],
"resolve": {"scale": {"color": "shared"}},
"config": {
"font": "DejaVu Sans",
"view": {"stroke": "#000", "strokeWidth": 1},
"axis": {"domain": false, "grid": false, "labelFont": "DejaVu Sans", "labelFontSize": 18, "labelColor": "#000", "labelFlush": false, "tickColor": "#000", "tickWidth": 1, "titleFont": "DejaVu Sans", "titleFontSize": 18, "titleFontWeight": "normal", "titleColor": "#000"},
"axisX": {"tickSize": 5.5, "labelPadding": 5},
"axisY": {"tickSize": 5, "labelPadding": 4.5, "titleAngle": 270, "titleBaseline": "alphabetic"}
}
}
